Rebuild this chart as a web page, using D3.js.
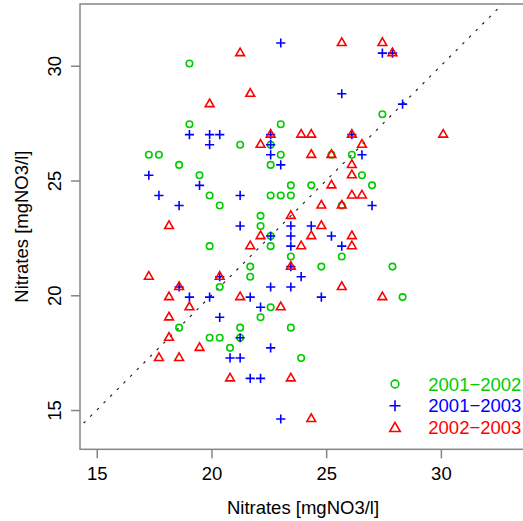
<!DOCTYPE html>
<html>
<head>
<meta charset="utf-8">
<script src="https://cdn.jsdelivr.net/npm/d3@7"></script>
<style>
  html, body { margin: 0; padding: 0; background: #fff; }
  svg { display: block; }
  text { font-family: "Liberation Sans", Arial, Helvetica, sans-serif; }
</style>
</head>
<body>
<svg id="chart" width="523" height="521"></svg>
<script>
// Nitrate concentrations [mgNO3/l]: first campaign (x) vs second campaign (y)
const pts2001_2002 = [
  [19.04, 30.10], [19.04, 27.45], [23.02, 27.45], [21.25, 26.56], [22.58, 26.56],
  [23.02, 26.12], [22.58, 25.68], [17.27, 26.12], [17.71, 26.12], [18.59, 25.68],
  [19.48, 25.23], [23.46, 24.79], [19.92, 24.35], [22.58, 24.35], [23.02, 24.35],
  [23.46, 24.35], [20.36, 23.91], [22.14, 23.46], [22.14, 23.02], [27.45, 27.89],
  [25.23, 26.12], [26.12, 26.12], [26.56, 25.23], [24.35, 24.79], [27.00, 24.79],
  [25.68, 23.91], [22.58, 22.58], [19.92, 22.14], [22.58, 22.14], [23.46, 21.69],
  [21.69, 21.25], [21.69, 20.81], [20.36, 20.36], [22.58, 19.48], [22.14, 19.04],
  [18.59, 18.59], [21.25, 18.59], [23.46, 18.59], [19.92, 18.15], [20.36, 18.15],
  [21.25, 18.15], [20.81, 17.71], [23.91, 17.27], [24.79, 21.25], [25.68, 21.69],
  [27.89, 21.25], [28.33, 19.92]
];
const pts2001_2003 = [
  [23.02, 30.99], [19.04, 27.00], [19.92, 27.00], [20.36, 27.00], [19.92, 26.56],
  [22.58, 27.00], [22.58, 26.56], [22.58, 26.12], [23.02, 25.68], [17.27, 25.23],
  [19.48, 24.79], [17.71, 24.35], [21.25, 24.35], [18.59, 23.91], [21.25, 23.02],
  [23.46, 23.02], [23.46, 22.58], [23.46, 22.14], [27.45, 30.55], [27.89, 30.55],
  [25.68, 28.78], [28.33, 28.33], [26.12, 27.00], [26.56, 26.12], [27.00, 23.91],
  [24.35, 23.02], [22.58, 22.58], [23.46, 21.25], [20.36, 20.81], [18.59, 20.36],
  [22.58, 20.36], [23.46, 20.36], [19.04, 19.92], [19.92, 19.92], [21.69, 19.92],
  [22.14, 19.48], [20.36, 19.04], [21.25, 18.15], [22.58, 17.71], [20.81, 17.27],
  [21.25, 17.27], [21.69, 16.38], [22.14, 16.38], [23.02, 14.61], [25.23, 22.58],
  [25.68, 22.14], [23.91, 20.81], [24.79, 19.92]
];
const pts2002_2003 = [
  [21.25, 30.55], [21.69, 28.78], [19.92, 28.33], [22.58, 27.00], [22.14, 26.56],
  [23.46, 23.46], [18.15, 23.02], [25.68, 30.99], [27.45, 30.99], [27.89, 30.55],
  [23.91, 27.00], [24.35, 27.00], [26.12, 27.00], [30.10, 27.00], [26.56, 26.56],
  [24.35, 26.12], [25.23, 26.12], [26.12, 25.68], [26.12, 25.23], [25.23, 24.79],
  [26.12, 24.35], [26.56, 24.35], [24.79, 23.91], [25.68, 23.91], [24.79, 23.02],
  [22.14, 22.58], [21.69, 22.14], [23.46, 21.25], [17.27, 20.81], [20.36, 20.81],
  [18.59, 20.36], [18.15, 19.92], [21.25, 19.92], [23.02, 19.48], [19.04, 19.48],
  [18.15, 19.04], [18.15, 18.15], [19.48, 17.71], [17.71, 17.27], [18.59, 17.27],
  [20.81, 16.38], [23.46, 16.38], [24.35, 22.58], [26.12, 22.58], [23.91, 22.14],
  [26.12, 22.14], [25.68, 20.36], [27.45, 19.92], [24.35, 14.61]
];

const seriesNames = ["2001\u22122002", "2001\u22122003", "2002\u22122003"];
const seriesColors = ["#00cd00", "#0000ff", "#ff0000"];
const seriesShapes = ["circle", "plus", "triangle"];
const seriesData = [pts2001_2002, pts2001_2003, pts2002_2003];

const xTicks = [15, 20, 25, 30];
const yTicks = [15, 20, 25, 30];
const xTitle = "Nitrates [mgNO3/l]";
const yTitle = "Nitrates [mgNO3/l]";

// plot region (equal aspect ratio, the right edge runs past the window)
const plot = { left: 80, right: 526, top: 4, bottom: 449.3 };

const x = d3.scaleLinear().domain([14.27, 33.71]).range([plot.left, plot.right]);
const y = d3.scaleLinear().domain([13.29, 32.69]).range([plot.bottom, plot.top]);

const svg = d3.select("#chart");
const FONT = 18.5;

svg.append("clipPath").attr("id", "plotclip")
  .append("rect")
  .attr("x", plot.left).attr("y", plot.top)
  .attr("width", plot.right - plot.left).attr("height", plot.bottom - plot.top);

// 1:1 reference line
const lo = Math.max(x.domain()[0], y.domain()[0]);
const hi = Math.min(x.domain()[1], y.domain()[1]);
svg.append("line")
  .attr("clip-path", "url(#plotclip)")
  .attr("x1", x(lo - 1)).attr("y1", y(lo - 1))
  .attr("x2", x(hi + 1)).attr("y2", y(hi + 1))
  .attr("stroke", "#111").attr("stroke-width", 1.1)
  .attr("stroke-dasharray", "2.6,6.8");

// symbol drawing in the style of R's pch 1 / 3 / 2
function drawSymbol(g, shape, cx, cy, rad, color, sw) {
  if (shape === "circle") {
    g.append("circle").attr("cx", cx).attr("cy", cy).attr("r", rad)
      .attr("fill", "none").attr("stroke", color).attr("stroke-width", sw);
  } else if (shape === "plus") {
    const a = rad * Math.SQRT2;
    g.append("path")
      .attr("d", `M${cx - a},${cy}H${cx + a}M${cx},${cy - a}V${cy + a}`)
      .attr("fill", "none").attr("stroke", color).attr("stroke-width", sw);
  } else {
    const r = 1.5551203 * rad, hw = r * Math.sqrt(3) / 2;
    g.append("path")
      .attr("d", `M${cx},${cy - r}L${cx + hw},${cy + r / 2}L${cx - hw},${cy + r / 2}Z`)
      .attr("fill", "none").attr("stroke", color).attr("stroke-width", sw)
      .attr("stroke-linejoin", "miter");
  }
}

const pointsG = svg.append("g").attr("clip-path", "url(#plotclip)");
seriesData.forEach((pts, i) => {
  const g = pointsG.append("g").attr("class", "series-" + i);
  pts.forEach(p => drawSymbol(g, seriesShapes[i], x(p[0]), y(p[1]), 3.25, seriesColors[i], 1.6));
});

// box
svg.append("rect")
  .attr("x", plot.left).attr("y", plot.top)
  .attr("width", plot.right - plot.left).attr("height", plot.bottom - plot.top)
  .attr("fill", "none").attr("stroke", "#858585").attr("stroke-width", 1.5);

// x axis
const xAxis = svg.append("g")
  .attr("transform", `translate(0,${plot.bottom})`)
  .call(d3.axisBottom(x).tickValues(xTicks).tickSize(9).tickPadding(0).tickFormat(d3.format("d")));
xAxis.select(".domain").remove();
xAxis.selectAll(".tick line").attr("stroke", "#858585").attr("stroke-width", 1.5);
xAxis.selectAll(".tick text")
  .attr("y", 30.7).attr("dy", null)
  .attr("fill", "#000").style("font-size", FONT + "px")
  .style("font-family", '"Liberation Sans", Arial, sans-serif');

// y axis
const yAxis = svg.append("g")
  .attr("transform", `translate(${plot.left},0)`)
  .call(d3.axisLeft(y).tickValues(yTicks).tickSize(9).tickPadding(0).tickFormat(d3.format("d")));
yAxis.select(".domain").remove();
yAxis.selectAll(".tick line").attr("stroke", "#858585").attr("stroke-width", 1.5);
yAxis.selectAll(".tick text")
  .attr("x", null).attr("dy", null)
  .attr("transform", "translate(-19.5,0) rotate(-90)")
  .attr("text-anchor", "middle")
  .attr("fill", "#000").style("font-size", FONT + "px")
  .style("font-family", '"Liberation Sans", Arial, sans-serif');

// axis titles
svg.append("text")
  .attr("x", (plot.left + plot.right) / 2).attr("y", 514.3)
  .attr("text-anchor", "middle").style("font-size", FONT + "px")
  .text(xTitle);
svg.append("text")
  .attr("transform", `translate(28.3,${(plot.top + plot.bottom) / 2}) rotate(-90)`)
  .attr("text-anchor", "middle").style("font-size", FONT + "px")
  .text(yTitle);

// legend
const legend = svg.append("g");
const legendRows = [384, 405.7, 427.3];
seriesNames.forEach((name, i) => {
  const cy = legendRows[i];
  const symY = seriesShapes[i] === "triangle" ? cy + 1.2 : cy;
  drawSymbol(legend, seriesShapes[i], 395, symY, 3.9, seriesColors[i], 1.6);
  legend.append("text")
    .attr("x", 428.3).attr("y", cy + 6.7)
    .attr("fill", seriesColors[i]).style("font-size", FONT + "px")
    .text(name);
});
</script>
</body>
</html>
